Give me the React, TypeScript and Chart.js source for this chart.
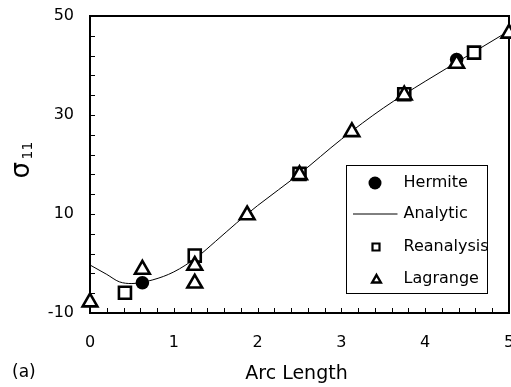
import React, { useEffect, useRef } from "react";
import { Chart, registerables } from "chart.js";

Chart.register(...registerables);

// ---- data ----
const analyticX = [0, 0.2, 0.35, 0.5, 0.75, 1.0, 1.27, 1.5, 1.75, 2.0, 2.5, 3.0, 3.5, 4.0, 4.5, 5.0];
const analyticY = [-0.3, -2.2, -3.7, -4.05, -3.3, -1.7, 1.2, 4.5, 8.2, 11.7, 18.1, 25.1, 31.4, 36.8, 41.9, 47.0];

const hermiteX = [0.625, 4.375];
const hermiteY = [-3.9, 41.2];

const reanalysisX = [0.417, 1.25, 2.5, 3.75, 4.583];
const reanalysisY = [-5.9, 1.6, 18.1, 34.2, 42.6];

const lagrangeX = [0, 0.625, 1.25, 1.25, 1.875, 2.5, 3.125, 3.75, 4.375, 5];
const lagrangeY = [-7.8, -1.2, -0.4, -4.0, 9.8, 17.9, 26.6, 34.0, 40.4, 46.5];

const xTickValues = [0, 0.2, 0.4, 0.6, 0.8, 1, 1.2, 1.4, 1.6, 1.8, 2, 2.2, 2.4, 2.6, 2.8, 3, 3.2, 3.4, 3.6, 3.8, 4, 4.2, 4.4, 4.6, 4.8, 5];
const xTickLabels = [0, 1, 2, 3, 4, 5];
const yTickValues = [-10, -6, -2, 2, 6, 10, 14, 18, 22, 26, 30, 34, 38, 42, 46, 50];
const yTickLabels = [-10, 10, 30, 50];

const legendLabels = ["Hermite", "Analytic", "Reanalysis", "Lagrange"];
const xTitle = "Arc Length";
const yTitleMain = "σ";
const yTitleSub = "11";
const panelLabel = "(a)";

const FONT = "'DejaVu Sans', sans-serif";

function pts(xs: number[], ys: number[]) {
  return xs.map((x, i) => ({ x, y: ys[i] }));
}

function drawCircle(ctx: CanvasRenderingContext2D, x: number, y: number, r: number) {
  ctx.beginPath();
  ctx.arc(x, y, r, 0, Math.PI * 2);
  ctx.fillStyle = "#000";
  ctx.fill();
}
function drawSquare(ctx: CanvasRenderingContext2D, x: number, y: number, half: number, lw: number) {
  ctx.beginPath();
  ctx.rect(x - half, y - half, half * 2, half * 2);
  ctx.fillStyle = "#fff";
  ctx.fill();
  ctx.lineWidth = lw;
  ctx.strokeStyle = "#000";
  ctx.stroke();
}
function drawTriangle(ctx: CanvasRenderingContext2D, x: number, y: number, r: number, lw: number) {
  ctx.beginPath();
  for (let k = 0; k < 3; k++) {
    const a = (k * 2 * Math.PI) / 3;
    const px = x + Math.sin(a) * r;
    const py = y - Math.cos(a) * r;
    if (k === 0) ctx.moveTo(px, py);
    else ctx.lineTo(px, py);
  }
  ctx.closePath();
  ctx.fillStyle = "#fff";
  ctx.fill();
  ctx.lineWidth = lw;
  ctx.strokeStyle = "#000";
  ctx.lineJoin = "miter";
  ctx.stroke();
}

const noPad = (s: any) => {
  s.paddingLeft = 0;
  s.paddingRight = 0;
  s.paddingTop = 0;
  s.paddingBottom = 0;
};

const framePlugin = {
  id: "frameTicks",
  beforeDatasetsDraw(chart: any) {
    const { ctx, chartArea: a, scales } = chart;
    const xs = scales.x;
    const ys = scales.y;
    ctx.save();
    ctx.strokeStyle = "#000";
    ctx.lineWidth = 1;
    ctx.beginPath();
    for (const t of xs.ticks) {
      const px = Math.round(xs.getPixelForValue(t.value)) + 0.5;
      ctx.moveTo(px, a.bottom);
      ctx.lineTo(px, a.bottom - 5);
    }
    for (const t of ys.ticks) {
      const py = Math.round(ys.getPixelForValue(t.value)) + 0.5;
      ctx.moveTo(a.left, py);
      ctx.lineTo(a.left + 5, py);
    }
    ctx.stroke();
    ctx.lineWidth = 2;
    ctx.strokeRect(a.left, a.top, a.right - a.left, a.bottom - a.top);
    ctx.restore();
  },
  afterDraw(chart: any) {
    const { ctx, chartArea: a } = chart;
    ctx.save();
    // legend box
    const boxL = a.right - 163;
    const boxT = a.top + 149;
    const boxW = 141;
    const boxH = 128;
    ctx.fillStyle = "#fff";
    ctx.fillRect(boxL, boxT, boxW, boxH);
    ctx.strokeStyle = "#000";
    ctx.lineWidth = 1;
    ctx.strokeRect(boxL + 0.5, boxT + 0.5, boxW, boxH);
    const rows = [18, 48.5, 82, 114];
    const mx = boxL + 29;
    const tx = boxL + 57.5;
    ctx.font = `16px ${FONT}`;
    ctx.textBaseline = "middle";
    ctx.textAlign = "left";
    drawCircle(ctx, mx, boxT + rows[0], 6.5);
    ctx.beginPath();
    ctx.moveTo(boxL + 7, boxT + rows[1] + 0.5);
    ctx.lineTo(boxL + 51.5, boxT + rows[1] + 0.5);
    ctx.lineWidth = 1;
    ctx.strokeStyle = "#000";
    ctx.stroke();
    drawSquare(ctx, mx + 1, boxT + rows[2], 3.5, 2.2);
    drawTriangle(ctx, mx + 1.5, boxT + rows[3] + 1, 5, 2.4);
    ctx.fillStyle = "#000";
    legendLabels.forEach((lab, i) => {
      ctx.fillText(lab, tx, boxT + rows[i]);
    });

    // x title
    ctx.textAlign = "center";
    ctx.textBaseline = "alphabetic";
    ctx.font = `19px ${FONT}`;
    ctx.fillText(xTitle, (a.left + a.right) / 2 - 3, 379);

    // panel label
    ctx.textAlign = "left";
    ctx.font = `17px ${FONT}`;
    ctx.fillText(panelLabel, 12, 377);

    // y title rotated
    const cy = (a.top + a.bottom) / 2;
    ctx.translate(0, cy);
    ctx.rotate(-Math.PI / 2);
    ctx.textAlign = "left";
    ctx.textBaseline = "alphabetic";
    ctx.font = `26px ${FONT}`;
    ctx.fillText(yTitleMain, -14, 29);
    ctx.font = `14px ${FONT}`;
    ctx.fillText(yTitleSub, 5, 32);
    ctx.restore();
  },
};

export default function App() {
  const ref = useRef<HTMLCanvasElement | null>(null);

  useEffect(() => {
    if (!ref.current) return;
    const chart = new Chart(ref.current, {
      type: "scatter",
      data: {
        datasets: [
          {
            label: "Lagrange",
            data: pts(lagrangeX, lagrangeY),
            pointStyle: "triangle",
            pointRadius: 8.5,
            borderWidth: 2.6,
            borderColor: "#000",
            backgroundColor: "#fff",
            order: 0,
            clip: false,
          } as any,
          {
            label: "Reanalysis",
            data: pts(reanalysisX, reanalysisY),
            pointStyle: "rect",
            pointRadius: 8.5,
            borderWidth: 2.6,
            borderColor: "#000",
            backgroundColor: "#fff",
            order: 1,
            clip: false,
          },
          {
            label: "Hermite",
            data: pts(hermiteX, hermiteY),
            pointStyle: "circle",
            pointRadius: 6.8,
            borderWidth: 0,
            borderColor: "#000",
            backgroundColor: "#000",
            order: 2,
            clip: false,
          },
          {
            type: "line",
            label: "Analytic",
            data: pts(analyticX, analyticY),
            borderColor: "#000",
            borderWidth: 1,
            pointRadius: 0,
            cubicInterpolationMode: "monotone",
            fill: false,
            showLine: true,
            order: 3,
          } as any,
        ],
      },
      options: {
        animation: false,
        responsive: false,
        events: [],
        layout: { autoPadding: false, padding: { left: 0, right: 2, top: 16, bottom: 0 } },
        plugins: {
          legend: { display: false },
          tooltip: { enabled: false },
        },
        scales: {
          x: {
            type: "linear",
            position: "bottom",
            min: 0,
            max: 5,
            afterBuildTicks: (s: any) => {
              s.ticks = xTickValues.map((v) => ({ value: v }));
            },
            afterFit: (s: any) => {
              s.height = 74;
              noPad(s);
            },
            ticks: {
              autoSkip: false,
              maxRotation: 0,
              padding: 20,
              color: "#000",
              font: { family: FONT, size: 16 },
              callback: (v: any) => (xTickLabels.includes(Number(v)) ? String(v) : ""),
            },
            grid: { display: false, drawTicks: false },
            border: { display: false },
          },
          y: {
            type: "linear",
            min: -10,
            max: 50,
            afterBuildTicks: (s: any) => {
              s.ticks = yTickValues.map((v) => ({ value: v }));
            },
            afterFit: (s: any) => {
              s.width = 90;
              noPad(s);
            },
            ticks: {
              autoSkip: false,
              padding: 16,
              color: "#000",
              font: { family: FONT, size: 16 },
              callback: (v: any) => (yTickLabels.includes(Number(v)) ? String(v) : ""),
            },
            grid: { display: false, drawTicks: false },
            border: { display: false },
          },
        },
      },
      plugins: [framePlugin],
    });
    return () => chart.destroy();
  }, []);

  return (
    <div style={{ position: "fixed", left: 0, top: 0, width: 511, height: 387, background: "#fff" }}>
      <canvas ref={ref} width={511} height={387} style={{ display: "block" }} />
    </div>
  );
}
